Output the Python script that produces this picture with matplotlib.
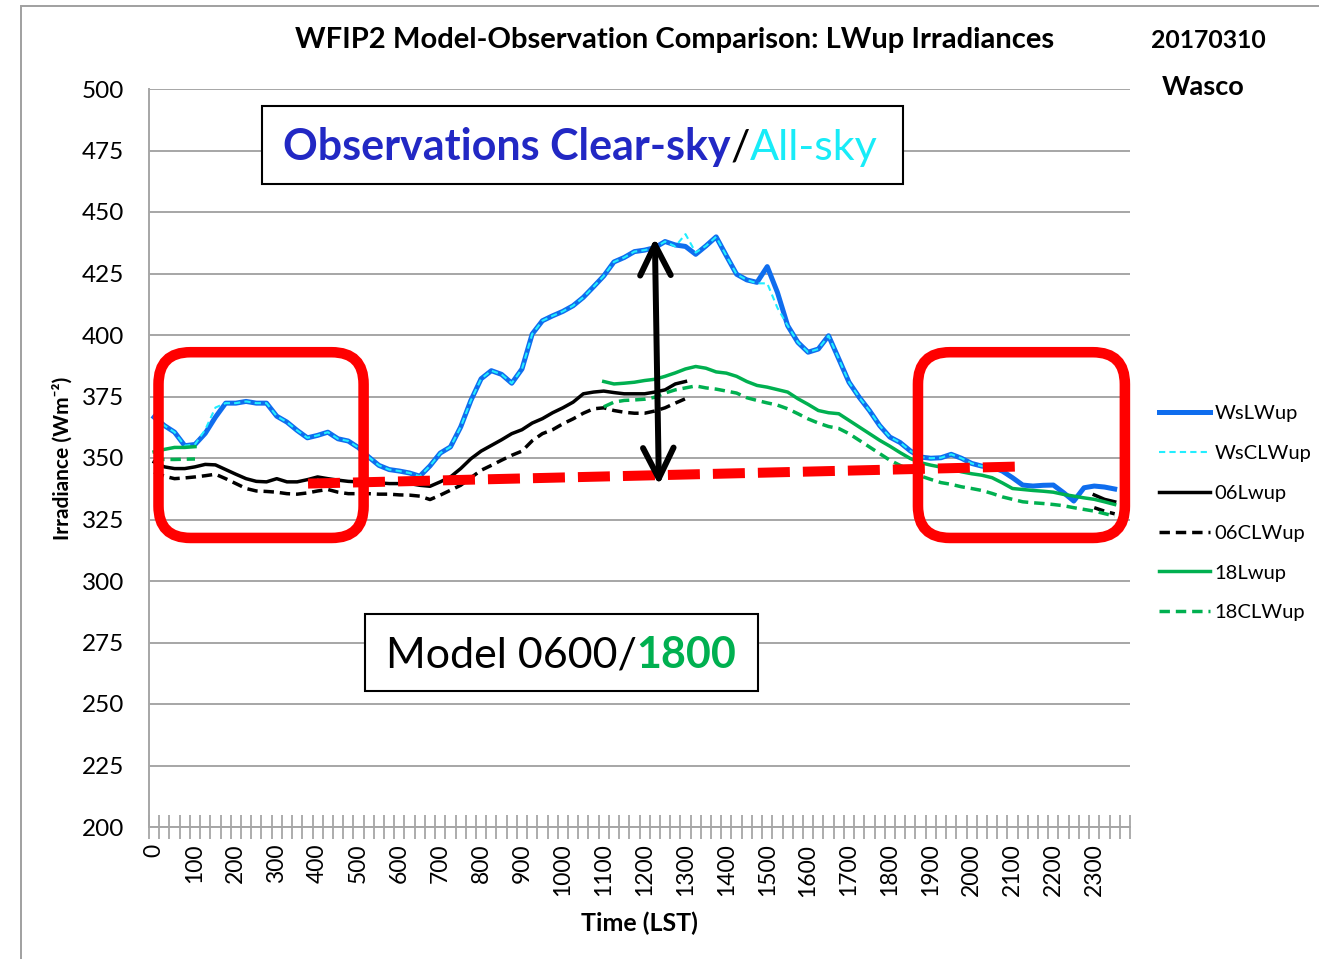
import numpy as np
import matplotlib
matplotlib.use("Agg")
import matplotlib.pyplot as plt
from matplotlib.patches import FancyBboxPatch, Rectangle
from matplotlib.transforms import IdentityTransform
from matplotlib.offsetbox import TextArea, HPacker, AnnotationBbox

nan = np.nan

# ---------------- data ----------------
# 15-minute categories (LST, hhmm); labels every hour
times = [h * 100 + m for h in range(24) for m in (0, 15, 30, 45)]
hour_labels = [str(h * 100) for h in range(24)]

ws_lwup = [366.6, 363.2, 360.5, 355.0, 355.5, 360.0, 366.6, 372.3, 372.3, 373.0,
           372.3, 372.3, 367.0, 364.6, 361.2, 358.2, 359.2, 360.5, 357.8, 356.9,
           354.2, 350.4, 347.0, 345.3, 344.7, 343.9, 342.6, 346.8, 352.0, 354.5,
           362.6, 373.4, 382.2, 385.5, 384.0, 380.4, 386.2, 400.4, 405.8, 407.8,
           409.6, 411.9, 415.3, 419.6, 424.0, 429.7, 431.5, 433.9, 434.5, 435.5,
           438.0, 436.6, 436.0, 432.8, 436.2, 439.9, 432.2, 424.7, 422.4, 421.4,
           427.8, 417.3, 403.8, 397.0, 393.0, 394.3, 399.7, 390.3, 380.8, 374.7,
           369.3, 363.2, 358.5, 356.3, 352.9, 350.4, 349.9, 350.1, 351.5, 349.9,
           347.8, 346.7, 346.3, 344.7, 342.0, 339.0, 338.6, 338.9, 339.0, 335.9,
           332.5, 337.9, 338.6, 338.2, 337.4]

ws_clwup = [366.6, 363.2, 360.5, 355.0, 355.5, 361.5, 370.5, 372.3, 372.3, 373.0,
            372.3, 372.3, 367.0, 364.6, 361.2, 358.2, 359.2, 360.5, 357.8, 356.9,
            354.2, 350.4, 347.0, 345.3, 344.7, 343.9, 342.6, 346.8, 352.0, 354.5,
            362.6, 373.4, 382.2, 385.5, 384.0, 380.4, 386.2, 400.4, 405.8, 407.8,
            409.6, 411.9, 415.3, 419.6, 424.0, 429.7, 431.5, 433.9, 434.5, 435.5,
            438.0, 436.0, 441.0, 433.5, 436.2, 439.9, 432.2, 424.7, 422.4, 421.0,
            421.0, 411.0, 403.8, 397.0, 393.0, 394.3, 399.7, 390.3, 380.8, 374.7,
            369.3, 363.2, 358.5, 356.3, 352.9, 350.4, 349.9, 350.1, 351.5, 349.9,
            347.8, 346.7, 346.3, nan, nan, nan, nan, nan, nan, nan,
            nan, nan, nan, nan, nan]

m06_lwup = [348.4, 346.4, 345.7, 345.7, 346.4, 347.4, 347.2, 345.3, 343.4, 341.6,
            340.5, 340.3, 341.6, 340.3, 340.3, 341.2, 342.3, 341.6, 341.0, 340.5,
            340.3, 340.1, 339.9, 339.6, 339.6, 339.6, 338.9, 338.5, 340.3, 342.3,
            345.7, 349.7, 352.8, 355.1, 357.4, 359.9, 361.5, 364.2, 366.0, 368.4,
            370.4, 372.7, 376.1, 376.8, 377.2, 376.6, 376.1, 376.1, 376.1, 376.8,
            377.7, 380.1, 381.1, nan, nan, nan, nan, nan, nan, nan,
            nan, nan, nan, nan, nan, nan, nan, nan, nan, nan,
            nan, nan, nan, nan, nan, nan, nan, nan, nan, nan,
            nan, nan, nan, nan, nan, nan, nan, nan, nan, nan,
            nan, nan, 335.0, 333.2, 332.2]

m06_clwup = [344.3, 342.6, 341.6, 341.9, 342.3, 342.8, 343.4, 341.6, 339.6, 337.6,
             336.6, 336.4, 336.1, 335.5, 335.3, 335.8, 336.6, 337.2, 336.1, 335.5,
             335.5, 335.5, 335.3, 335.3, 335.0, 334.9, 334.5, 333.1, 334.9, 336.9,
             338.9, 342.0, 345.0, 347.0, 349.1, 351.1, 352.8, 357.0, 359.9, 361.5,
             363.9, 365.9, 368.2, 370.0, 370.4, 369.3, 368.6, 368.2, 368.2, 369.1,
             370.4, 372.3, 374.1, nan, nan, nan, nan, nan, nan, nan,
             nan, nan, nan, nan, nan, nan, nan, nan, nan, nan,
             nan, nan, nan, nan, nan, nan, nan, nan, nan, nan,
             nan, nan, nan, nan, nan, nan, nan, nan, nan, nan,
             nan, nan, 329.8, 328.4, 327.3]

m18_lwup = [352.5, 353.5, 354.3, 354.3, 354.6, nan, nan, nan, nan, nan,
            nan, nan, nan, nan, nan, nan, nan, nan, nan, nan,
            nan, nan, nan, nan, nan, nan, nan, nan, nan, nan,
            nan, nan, nan, nan, nan, nan, nan, nan, nan, nan,
            nan, nan, nan, nan, 381.1, 380.1, 380.4, 380.8, 381.5, 382.0,
            383.2, 384.6, 386.2, 387.2, 386.5, 385.0, 384.5, 383.2, 381.1, 379.5,
            378.8, 377.8, 376.8, 374.1, 371.8, 369.3, 368.4, 368.0, 365.3, 362.6,
            359.9, 357.2, 354.8, 352.2, 349.8, 348.1, 347.1, 346.3, 345.4, 344.4,
            343.6, 343.0, 342.0, 339.9, 337.6, 337.2, 336.8, 336.5, 336.1, 335.2,
            334.5, 333.8, 333.2, 332.2, 331.1]

m18_clwup = [349.5, 349.4, 349.4, 349.5, 349.6, nan, nan, nan, nan, nan,
             nan, nan, nan, nan, nan, nan, nan, nan, nan, nan,
             nan, nan, nan, nan, nan, nan, nan, nan, nan, nan,
             nan, nan, nan, nan, nan, nan, nan, nan, nan, nan,
             nan, nan, nan, nan, 370.8, 372.7, 373.4, 373.6, 373.9, 374.7,
             376.4, 377.7, 378.5, 379.3, 378.5, 378.0, 377.2, 376.4, 374.5, 373.4,
             372.4, 371.5, 370.0, 368.0, 365.9, 364.2, 362.8, 362.0, 359.9, 357.2,
             354.5, 351.8, 349.1, 347.0, 345.0, 342.7, 341.3, 340.0, 339.3, 338.3,
             337.6, 336.8, 335.6, 334.2, 333.2, 332.2, 331.8, 331.5, 331.1, 330.6,
             329.8, 329.1, 328.4, 327.4, 326.4]

series_names = ["WsLWup", "WsCLWup", "06Lwup", "06CLWup", "18Lwup", "18CLWup"]

# annotation anchors (category index, W m-2)
red_box_left = (0.43, 20.5, 317.5, 393.0)
red_box_right = (74.75, 95.0, 317.5, 393.0)
red_line = ((15.06, 85.3), (339.6, 346.6))
arrow_top = (49.0, 439.4)
arrow_bottom = (49.4, 339.0)

# ---------------- figure ----------------
W, H = 1319, 959
fig = plt.figure(figsize=(W / 100, H / 100), dpi=100)
fig.patch.set_facecolor("white")
FONT = "Lato"
GRID = "#A6A6A6"

def fx(px):
    return px / W

def fy(py):
    return 1 - py / H

ax = fig.add_axes([fx(149), fy(827), fx(1130) - fx(149), fy(89) - fy(827)])

x = np.arange(len(ws_lwup))
BLUE = "#0F6DEE"
CYAN = "#22EEFF"
GREEN = "#00B050"

ax.plot(x, ws_lwup, color=BLUE, lw=3.6, label=series_names[0], zorder=3)
ax.plot(x, ws_clwup, color=CYAN, lw=1.5, dashes=(3, 2), label=series_names[1], zorder=3)
ax.plot(x, m06_lwup, color="black", lw=2.5, label=series_names[2], zorder=3)
ax.plot(x, m06_clwup, color="black", lw=2.5, dashes=(3.0, 1.7), label=series_names[3], zorder=3)
ax.plot(x, m18_lwup, color=GREEN, lw=2.5, label=series_names[4], zorder=3)
ax.plot(x, m18_clwup, color=GREEN, lw=2.5, dashes=(3.0, 1.7), label=series_names[5], zorder=3)

ax.set_xlim(-0.5, len(times) - 0.5)
ax.set_ylim(200, 500)
ax.set_yticks(np.arange(200, 501, 25))
ax.yaxis.grid(True, color=GRID, lw=1.4)
ax.set_axisbelow(True)
for s in ["top", "right"]:
    ax.spines[s].set_visible(False)
for s in ["left", "bottom"]:
    ax.spines[s].set_color(GRID)
    ax.spines[s].set_linewidth(1.4)

ax.set_xticks(np.arange(0, len(times), 4))
ax.set_xticklabels(hour_labels, rotation=90, family=FONT, fontsize=16.5)
ax.set_xticks(np.arange(-0.5, len(times) + 0.5, 1), minor=True)
ax.tick_params(axis="x", which="major", length=0, pad=12)
ax.tick_params(axis="x", which="minor", direction="inout", length=17, width=1.3, color=GRID)
ax.tick_params(axis="y", length=0, pad=18)
for lab in ax.get_yticklabels():
    lab.set_family(FONT)
    lab.set_fontsize(17.5)

ax.set_xlabel("Time (LST)", family=FONT, fontweight="bold", fontsize=18, labelpad=11)
ax.yaxis.set_label_coords(-0.078, 0.5)
ax.set_ylabel("Irradiance (Wm\u207b\u00b2)", family=[FONT, "DejaVu Sans"], fontweight="bold", fontsize=15)

# legend
handles = ax.get_lines()[:6]
leg = ax.legend(handles, series_names, loc="upper left", bbox_to_anchor=(fx(1159), fy(405)),
                bbox_transform=fig.transFigure, frameon=False, prop={"family": FONT, "size": 14.5},
                handlelength=2.55, handletextpad=0.2, labelspacing=1.13, borderaxespad=0, borderpad=0)

# titles
fig.text(fx(675), fy(40), "WFIP2 Model-Observation Comparison: LWup Irradiances", family=FONT,
         fontweight="bold", fontsize=21, ha="center", va="center")
fig.text(fx(1208), fy(41), "20170310", family=FONT, fontweight="bold", fontsize=17.8, ha="center", va="center")
fig.text(fx(1203), fy(87), "Wasco", family=FONT, fontweight="bold", fontsize=19.5, ha="center", va="center")

# outer chart frame
fig.add_artist(Rectangle((fx(21), -0.2), 1.5, fy(6) + 0.2, transform=fig.transFigure,
                         fill=False, ec="#A0A0A0", lw=1.4))

# annotations
fig.canvas.draw()
td = ax.transData

def rounded(box):
    x0, x1, y0, y1 = box
    (px0, py0) = td.transform((x0, y0))
    (px1, py1) = td.transform((x1, y1))
    p = FancyBboxPatch((px0, py0), px1 - px0, py1 - py0,
                       boxstyle="round,pad=0,rounding_size=32", transform=IdentityTransform(),
                       fill=False, ec="#FF0000", lw=7.6, zorder=6, clip_on=False)
    ax.add_artist(p)

rounded(red_box_left)
rounded(red_box_right)
ax.plot(red_line[0], red_line[1], color="#FF0000", lw=7.2, dashes=(3.2, 1.3),
        solid_capstyle="butt", zorder=6)
ax.annotate("", xy=arrow_bottom, xytext=arrow_top,
            arrowprops=dict(arrowstyle="<->,head_length=1.1,head_width=0.55", lw=4.3,
                            color="black", shrinkA=0, shrinkB=0, mutation_scale=20,
                            joinstyle="round", capstyle="round"), zorder=7)

def text_box(px0, py0, px1, py1, parts, center):
    fig.add_artist(Rectangle((fx(px0), fy(py1)), fx(px1) - fx(px0), fy(py0) - fy(py1),
                             transform=fig.transFigure, fc="white", ec="black", lw=1.5, zorder=8))
    areas = [TextArea(t, textprops=dict(family=FONT, fontsize=fs, fontweight=fw, color=c))
             for t, fs, fw, c in parts]
    pack = HPacker(children=areas, pad=0, sep=0, align="baseline")
    ab = AnnotationBbox(pack, (fx(center[0]), fy(center[1])), xycoords="figure fraction",
                        frameon=False, box_alignment=(0.5, 0.5), zorder=9)
    fig.add_artist(ab)

text_box(262, 106, 903, 184,
         [("Observations Clear-sky", 31, "bold", "#2228C4"),
          ("/", 31, "normal", "black"),
          ("All-sky", 31, "normal", "#18ECF8")], (580, 147))
text_box(365, 614, 758, 691,
         [("Model 0600/", 31, "normal", "black"),
          ("1800", 31, "bold", GREEN)], (561, 655))

fig.savefig("out.png", dpi=100)
